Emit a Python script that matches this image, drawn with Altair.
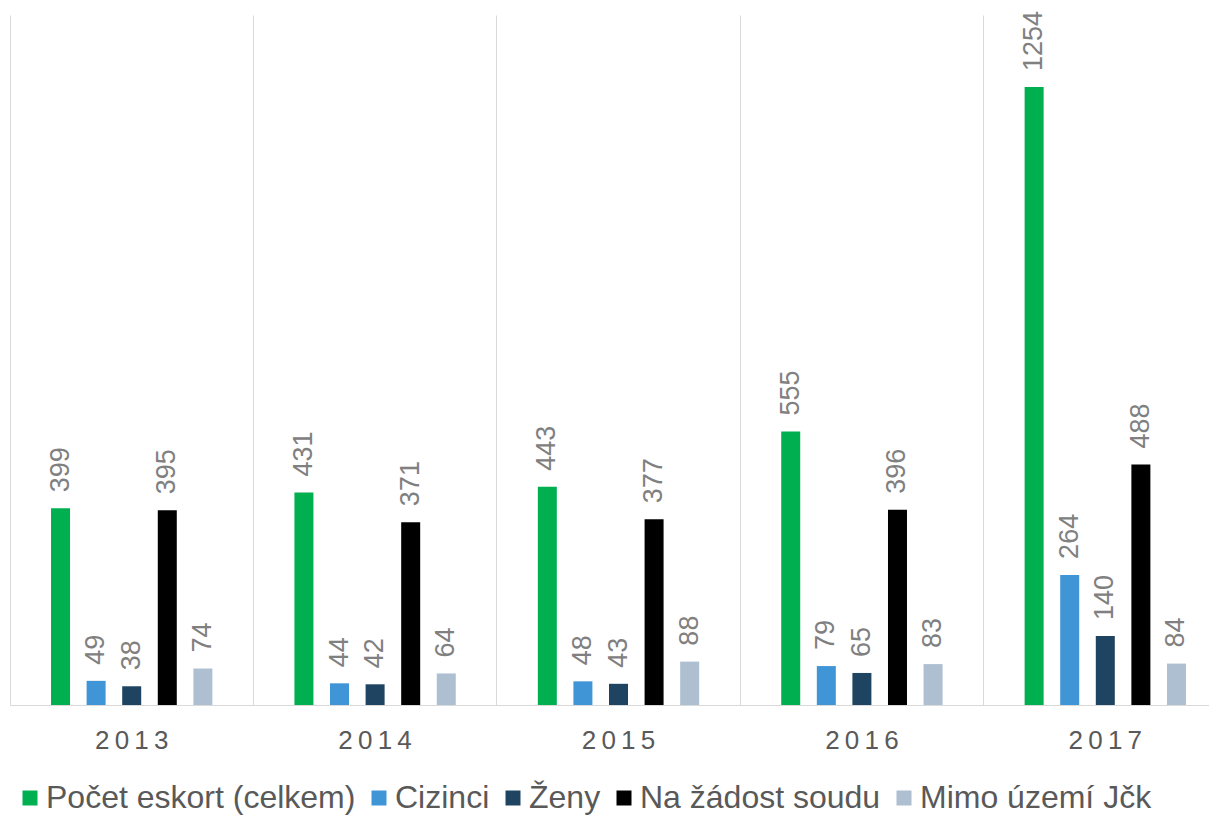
import altair as alt
import pandas as pd

years = ["2013", "2014", "2015", "2016", "2017"]
series = ["Počet eskort (celkem)", "Cizinci", "Ženy", "Na žádost soudu", "Mimo území Jčk"]
colors = ["#00b050", "#3f95d6", "#1e4461", "#000000", "#adbfd1"]

pocet = [399, 431, 443, 555, 1254]
cizinci = [49, 44, 48, 79, 264]
zeny = [38, 42, 43, 65, 140]
soud = [395, 371, 377, 396, 488]
mimo = [74, 64, 88, 83, 84]

vals = [pocet, cizinci, zeny, soud, mimo]
rows = []
for s, vs in zip(series, vals):
    for y, v in zip(years, vs):
        rows.append({"year": y, "series": s, "value": v})
df = pd.DataFrame(rows)

base = alt.Chart(df).encode(
    x=alt.X(
        "year:N",
        sort=years,
        scale=alt.Scale(paddingInner=0, paddingOuter=0, range=[0, 1217]),
        axis=alt.Axis(
            title=None,
            grid=True,
            bandPosition=0,
            gridColor="#d9d9d9",
            gridWidth=1,
            domainColor="#d9d9d9",
            domainWidth=1,
            ticks=False,
            labelAngle=0,
            labelFont="Liberation Sans",
            labelFontSize=26,
            labelColor="#595959",
            labelPadding=22,
            labelBaseline="top",
            labelExpr="join(split(datum.label, ''), '\u2009')",
        ),
    ),
    xOffset=alt.XOffset(
        "series:N", sort=series, scale=alt.Scale(paddingOuter=0.92, paddingInner=0)
    ),
    y=alt.Y("value:Q", scale=alt.Scale(domain=[0, 1400]), axis=None),
)

bars = base.mark_bar(size=19).encode(
    color=alt.Color(
        "series:N",
        sort=series,
        scale=alt.Scale(domain=series, range=colors),
        legend=alt.Legend(
            title=None,
            orient="none",
            legendX=4,
            legendY=767,
            direction="horizontal",
            columns=5,
            symbolType="square",
            symbolSize=225,
            symbolStrokeWidth=0,
            symbolOpacity=1,
            labelFont="Liberation Sans",
            labelFontSize=32,
            labelColor="#595959",
            labelOffset=0,
            columnPadding=7,
            padding=0,
            labelLimit=0,
        ),
    )
)

labels = base.mark_text(
    angle=270,
    align="left",
    baseline="middle",
    dx=16,
    font="Liberation Sans",
    fontSize=27,
    color="#808080",
).encode(text="value:Q")

chart = (
    alt.layer(bars, labels)
    .properties(
        width=1199,
        height=690,
        autosize=alt.AutoSizeParams(type="none"),
        padding={"left": 2, "top": 7, "right": 0, "bottom": 110},
    )
    .configure_view(stroke=None)
)

chart.save("out.html", embed_options={"renderer": "svg", "actions": False})
